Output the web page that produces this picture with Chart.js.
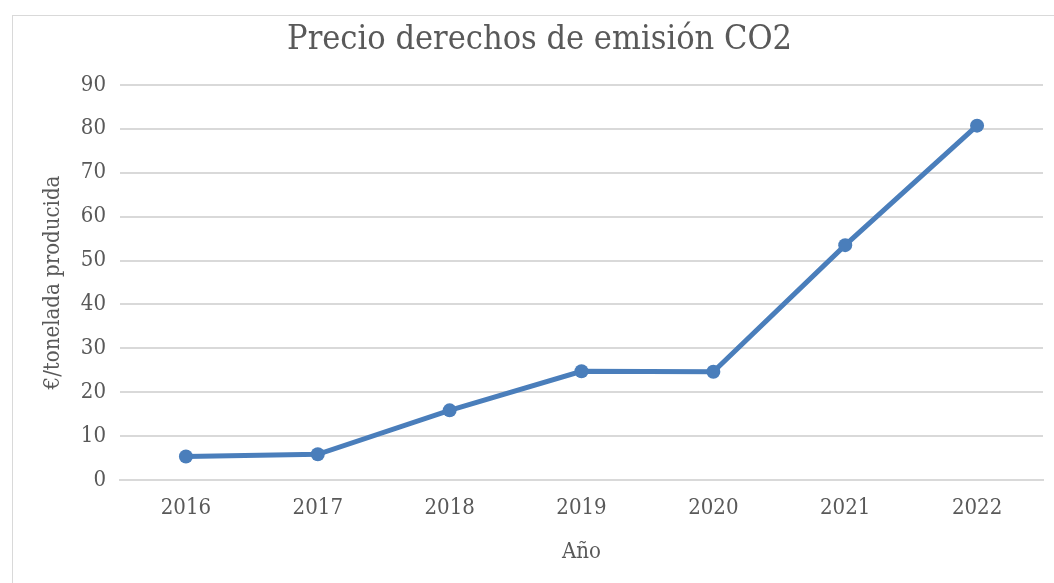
<!DOCTYPE html>
<html>
<head>
<meta charset="utf-8">
<script src="https://cdn.jsdelivr.net/npm/chart.js@4"></script>
<style>
  html, body { margin: 0; padding: 0; background: #fff; }
  #wrap { position: relative; width: 1054px; height: 583px; overflow: hidden; }
  #frame { position: absolute; left: 12px; top: 15px; width: 1060px; height: 600px; border: 1px solid #d9d9d9; box-sizing: border-box; }
  canvas { position: absolute; left: 0; top: 0; }
</style>
</head>
<body>
<div id="wrap">
  <div id="frame"></div>
  <canvas id="co2Chart" width="1054" height="583"></canvas>
</div>
<script>
// Datos del gráfico
const years = ['2016', '2017', '2018', '2019', '2020', '2021', '2022'];
const prices = [5.4, 5.9, 15.9, 24.8, 24.7, 53.5, 80.7];
const yTicks = [0, 10, 20, 30, 40, 50, 60, 70, 80, 90];

const fontFamily = "'DejaVu Serif Condensed', 'Liberation Serif', serif";
const textColor = '#595959';
const lineColor = '#4a7ebb';

const ctx = document.getElementById('co2Chart');

new Chart(ctx, {
  type: 'line',
  data: {
    labels: years,
    datasets: [{
      label: 'Precio',
      data: prices,
      borderColor: lineColor,
      backgroundColor: lineColor,
      borderWidth: 5,
      pointRadius: 7,
      pointHoverRadius: 7,
      pointBorderWidth: 0,
      tension: 0
    }]
  },
  options: {
    responsive: false,
    animation: false,
    layout: {
      padding: { left: 36, right: 11, top: 14, bottom: 14 }
    },
    plugins: {
      legend: { display: false },
      tooltip: { enabled: false },
      title: {
        display: true,
        text: 'Precio derechos de emisión CO2',
        color: textColor,
        font: { family: fontFamily, size: 34, weight: 'normal' },
        padding: { top: 6, bottom: 24 }
      }
    },
    scales: {
      x: {
        offset: true,
        grid: { display: false, drawTicks: false, offset: true },
        border: { color: '#d9d9d9', width: 2 },
        ticks: {
          color: textColor,
          font: { family: fontFamily, size: 22 },
          padding: 15
        },
        title: {
          display: true,
          text: 'Año',
          color: textColor,
          font: { family: fontFamily, size: 22 },
          padding: { top: 2 }
        }
      },
      y: {
        min: 0,
        max: 90,
        afterBuildTicks: (scale) => {
          scale.ticks = yTicks.map(v => ({ value: v }));
        },
        afterFit: (scale) => {
          scale.width = 84;
        },
        grid: { color: '#d9d9d9', lineWidth: 2, drawTicks: false },
        border: { display: false },
        ticks: {
          color: textColor,
          font: { family: fontFamily, size: 22 },
          padding: 14
        },
        title: {
          display: true,
          text: '€/tonelada producida',
          color: textColor,
          font: { family: fontFamily, size: 22 },
          padding: { bottom: 4 }
        }
      }
    }
  }
});
</script>
</body>
</html>
